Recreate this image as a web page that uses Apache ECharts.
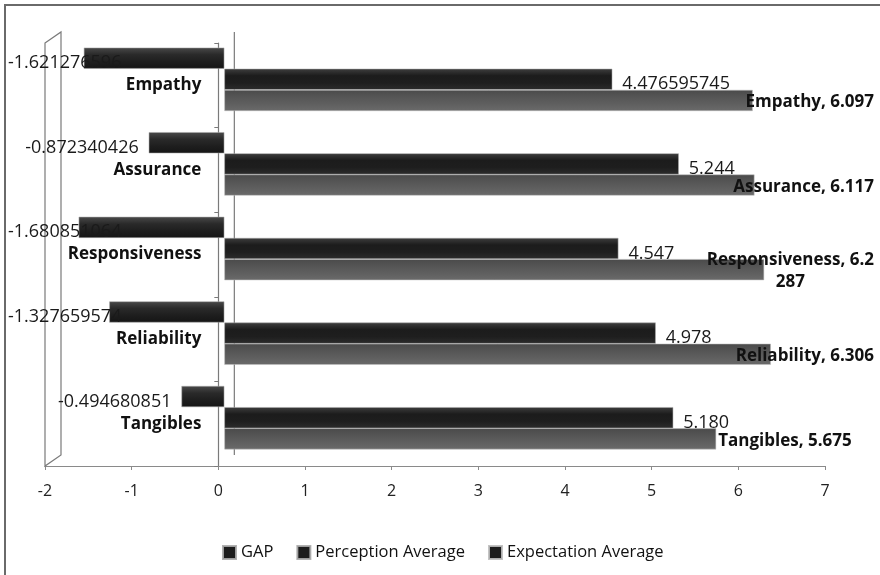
<!DOCTYPE html>
<html>
<head>
<meta charset="utf-8">
<script src="https://cdn.jsdelivr.net/npm/echarts@6/dist/echarts.min.js"></script>
<style>
  html, body { margin: 0; padding: 0; background: #fff; }
  #chart { width: 880px; height: 575px; }
</style>
</head>
<body>
<div id="chart"></div>
<script>
// Service-quality dimensions, top to bottom
const categories = ['Empathy', 'Assurance', 'Responsiveness', 'Reliability', 'Tangibles'];
// Values kept as their printed text; bars use the numeric form
const gapValues = ['-1.621276596', '-0.872340426', '-1.680851064', '-1.327659574', '-0.494680851'];
const perceptionValues = ['4.476595745', '5.244', '4.547', '4.978', '5.180'];
const expectationValues = ['6.097', '6.117', '6.2287', '6.306', '5.675'];
const seriesNames = ['GAP', 'Perception Average', 'Expectation Average'];
const xMin = -2, xMax = 7, xStep = 1;

const FONT = '"Open Sans", "Liberation Sans", sans-serif';
const chart = echarts.init(document.getElementById('chart'), null, { renderer: 'canvas' });

function grad(stops) {
  return new echarts.graphic.LinearGradient(0, 0, 0, 1,
    stops.map((c, i) => ({ offset: i / (stops.length - 1), color: c })));
}

// wrap long data labels onto a second line
function wrap(text, maxChars) {
  return text.length > maxChars ? text.slice(0, maxChars) + '\n' + text.slice(maxChars) : text;
}

// plot areas: the bars sit slightly behind and above the front axis plane
const front = { left: 45, right: 55, top: 43, bottom: 109 };
const depthX = 6, depthY = -6;
const frontWidth = 880 - front.left - front.right;
const zeroOffset = (0 - xMin) / (xMax - xMin) * frontWidth;

const LEFT_LIMIT = 8, RIGHT_LIMIT = 874;
const barBase = {
  type: 'bar', xAxisIndex: 0, yAxisIndex: 0,
  barGap: '0%', barCategoryGap: '25%'
};

// keep labels inside the chart area, centred on their bar
function gapLayout(p) {
  const r = p.rect, w = p.labelRect.width;
  const cy = r.y + r.height / 2 + 5;
  const right = r.x - 10;
  return right - w < LEFT_LIMIT
    ? { x: LEFT_LIMIT, y: cy, align: 'left', verticalAlign: 'middle' }
    : { x: right, y: cy, align: 'right', verticalAlign: 'middle' };
}
function expectationLayout(p) {
  const r = p.rect, w = p.labelRect.width;
  const cy = r.y + r.height / 2 + 2;
  const left = r.x + r.width + 2;
  return left + w > RIGHT_LIMIT
    ? { x: RIGHT_LIMIT - w / 2, y: cy, align: 'center', verticalAlign: 'middle' }
    : { x: left, y: cy, align: 'left', verticalAlign: 'middle' };
}

const option = {
  animation: false,
  backgroundColor: '#ffffff',
  textStyle: { fontFamily: FONT },
  grid: [
    {
      left: front.left + depthX, right: front.right - depthX,
      top: front.top + depthY, bottom: front.bottom - depthY,
      containLabel: false, outerBoundsMode: 'none'
    },
    Object.assign({ containLabel: false, outerBoundsMode: 'none' }, front)
  ],
  xAxis: [
    { gridIndex: 0, type: 'value', min: xMin, max: xMax, interval: xStep, show: false },
    {
      gridIndex: 1, type: 'value', min: xMin, max: xMax, interval: xStep,
      axisLine: { show: true, lineStyle: { color: '#8a8a8a', width: 1.2 } },
      axisTick: { show: true, length: 4, lineStyle: { color: '#8a8a8a' } },
      axisLabel: { fontSize: 16, color: '#222', margin: 17, fontFamily: FONT },
      splitLine: { show: false }
    }
  ],
  yAxis: [
    { gridIndex: 0, type: 'category', data: categories, inverse: true, show: false },
    {
      gridIndex: 1, type: 'category', data: categories, inverse: true,
      offset: -zeroOffset,
      axisLine: { show: true, onZero: false, lineStyle: { color: '#7a7a7a', width: 1.2 } },
      axisTick: { show: true, length: 4, lineStyle: { color: '#7a7a7a' } },
      axisLabel: { fontSize: 17, fontWeight: 'bold', color: '#111', margin: 17, fontFamily: FONT },
      splitLine: { show: false }
    }
  ],
  legend: {
    top: 539, left: 217,
    itemWidth: 13, itemHeight: 13, itemGap: 23, icon: 'rect',
    textStyle: { fontSize: 16.5, color: '#111', fontFamily: FONT },
    data: seriesNames.map(n => ({ name: n, itemStyle: { color: '#1c1c1c' } }))
  },
  series: [
    Object.assign({}, barBase, {
      name: seriesNames[0],
      data: gapValues.map(Number),
      itemStyle: {
        color: grad(['#4a4a4a', '#2a2a2a', '#1e1e1e', '#151515']),
        borderColor: 'rgba(170,170,170,0.9)', borderWidth: 0.6
      },
      label: {
        show: true, position: 'left', distance: 10,
        fontSize: 18, color: '#1a1a1a', fontFamily: FONT,
        formatter: p => gapValues[p.dataIndex]
      },
      labelLayout: gapLayout
    }),
    Object.assign({}, barBase, {
      name: seriesNames[1],
      data: perceptionValues.map(Number),
      itemStyle: {
        color: grad(['#3e3e3e', '#1c1c1c', '#1e1e1e', '#2c2c2c']),
        borderColor: 'rgba(170,170,170,0.9)', borderWidth: 0.6
      },
      label: {
        show: true, position: 'right', distance: 10, offset: [0, 5],
        fontSize: 18, color: '#1a1a1a', fontFamily: FONT,
        formatter: p => perceptionValues[p.dataIndex]
      }
    }),
    Object.assign({}, barBase, {
      name: seriesNames[2],
      data: expectationValues.map(Number),
      itemStyle: {
        color: grad(['#4a4a4a', '#555555', '#5f5f5f', '#6a6a6a']),
        borderColor: 'rgba(190,190,190,0.9)', borderWidth: 0.6
      },
      label: {
        show: true, position: 'right', distance: 2,
        fontSize: 17, fontWeight: 'bold', color: '#111', fontFamily: FONT, lineHeight: 22,
        formatter: p => wrap(categories[p.dataIndex] + ', ' + expectationValues[p.dataIndex], 19)
      },
      labelLayout: expectationLayout
    })
  ]
};

chart.setOption(option);

// 3-D frame outlines: side wall at the minimum and back wall line at zero
const wallX = 16, wallY = -11;
const frontTop = front.top, frontBottom = 575 - front.bottom;
const xLeft = chart.convertToPixel({ xAxisIndex: 1 }, xMin);
const xZero = chart.convertToPixel({ xAxisIndex: 1 }, 0);
chart.setOption({
  graphic: [
    {
      type: 'rect', silent: true, z: 0,
      shape: { x: 5, y: 5, width: 890, height: 590 },
      style: { fill: 'none', stroke: '#6a6a6a', lineWidth: 2 }
    },
    {
      type: 'polygon', silent: true, z: 1,
      shape: { points: [
        [xLeft, frontTop], [xLeft + wallX, frontTop + wallY],
        [xLeft + wallX, frontBottom + wallY], [xLeft, frontBottom]
      ] },
      style: { fill: 'none', stroke: '#7a7a7a', lineWidth: 1.2 }
    },
    {
      type: 'line', silent: true, z: 0,
      shape: { x1: xZero + wallX, y1: frontTop + wallY, x2: xZero + wallX, y2: frontBottom + wallY },
      style: { stroke: '#7a7a7a', lineWidth: 1.2 }
    }
  ]
});
</script>
</body>
</html>
